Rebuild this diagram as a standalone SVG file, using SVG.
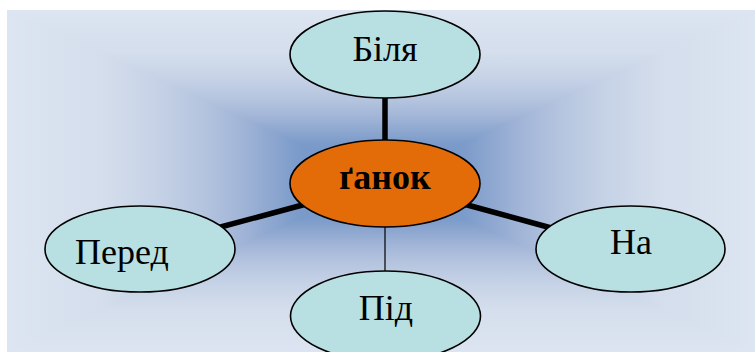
<svg xmlns="http://www.w3.org/2000/svg" width="755" height="352" viewBox="0 0 755 352">
  <defs>
    <linearGradient id="gh" gradientUnits="userSpaceOnUse" x1="7" y1="0" x2="755" y2="0">
      <stop offset="0" stop-color="#dce5f1"/>
      <stop offset="0.125" stop-color="#d4deec"/>
      <stop offset="0.2" stop-color="#c6d2e6"/>
      <stop offset="0.26" stop-color="#b5c5df"/>
      <stop offset="0.31" stop-color="#a3b6d8"/>
      <stop offset="0.35" stop-color="#8fa8d0"/>
      <stop offset="0.39" stop-color="#7b9bca"/>
      <stop offset="0.5" stop-color="#6a8ec4"/>
      <stop offset="0.61" stop-color="#7b9bca"/>
      <stop offset="0.65" stop-color="#8fa8d0"/>
      <stop offset="0.69" stop-color="#a3b6d8"/>
      <stop offset="0.74" stop-color="#b5c5df"/>
      <stop offset="0.8" stop-color="#c6d2e6"/>
      <stop offset="0.875" stop-color="#d4deec"/>
      <stop offset="1" stop-color="#dce5f1"/>
    </linearGradient>
    <linearGradient id="gv" href="#gh" gradientUnits="userSpaceOnUse" x1="0" y1="10" x2="0" y2="352"/>
  </defs>
  <style>
    .leaf { fill: #b8e0e2; stroke: #000; stroke-width: 1.6; }
    .hub { fill: #e36c09; stroke: #000; stroke-width: 1.6; }
    .t { font-size: 36px; fill: #000; text-anchor: middle; }
    .b { font-weight: bold; }
    .thick { stroke: #000; stroke-width: 5.5; }
    .thin { stroke: #000; stroke-width: 1.2; }
  </style>
  <rect x="0" y="0" width="755" height="352" fill="#ffffff"/>
  <rect x="7" y="10" width="748" height="342" fill="url(#gh)"/>
  <path d="M7,10 L755,10 L381,181 L755,352 L7,352 L381,181 Z" fill="url(#gv)"/>
  <g id="connectors">
    <line class="thick" x1="385" y1="95" x2="385" y2="145"/>
    <line class="thick" x1="215" y1="228.5" x2="310" y2="203"/>
    <line class="thick" x1="460" y1="203" x2="555" y2="229"/>
    <line class="thin" x1="385" y1="222" x2="385" y2="275"/>
  </g>
  <g id="bilia" font-family="'Liberation Serif', 'DejaVu Serif', serif">
    <ellipse class="leaf" cx="385" cy="54.5" rx="95" ry="43.5"/>
    <text class="t" x="385" y="61">Біля</text>
  </g>
  <g id="hanok" font-family="'Liberation Serif', 'DejaVu Serif', serif">
    <ellipse class="hub" cx="385" cy="183.5" rx="95" ry="43.5"/>
    <text class="t b" x="385" y="189">ґанок</text>
  </g>
  <g id="pered" font-family="'Liberation Serif', 'DejaVu Serif', serif">
    <ellipse class="leaf" cx="140" cy="249" rx="95" ry="43"/>
    <text class="t" x="122" y="264">Перед</text>
  </g>
  <g id="na" font-family="'Liberation Serif', 'DejaVu Serif', serif">
    <ellipse class="leaf" cx="630.5" cy="249" rx="94.5" ry="43"/>
    <text class="t" x="631" y="254">На</text>
  </g>
  <g id="pid" font-family="'Liberation Serif', 'DejaVu Serif', serif">
    <ellipse class="leaf" cx="385.5" cy="316" rx="95" ry="45"/>
    <text class="t" x="386" y="320">Під</text>
  </g>
</svg>
